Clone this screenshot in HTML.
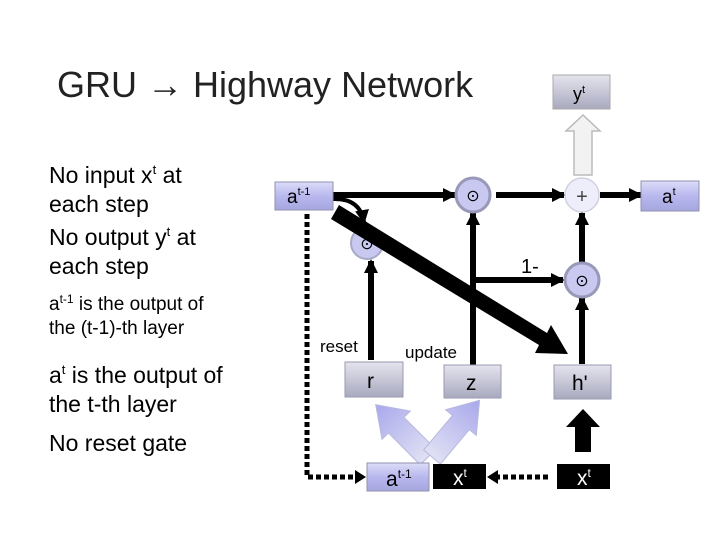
<!DOCTYPE html>
<html><head><meta charset="utf-8"><style>
body{margin:0;background:#fff;width:720px;height:540px;overflow:hidden}
svg{display:block;font-family:"Liberation Sans",sans-serif}
</style></head><body>
<svg width="720" height="540" viewBox="0 0 720 540" xmlns="http://www.w3.org/2000/svg">
<defs>
<linearGradient id="lav" x1="0" y1="0" x2="0" y2="1"><stop offset="0" stop-color="#dcdcf8"/><stop offset="0.5" stop-color="#b8b8ee"/><stop offset="1" stop-color="#a6a6e0"/></linearGradient>
<linearGradient id="gry" x1="0" y1="0" x2="0" y2="1"><stop offset="0" stop-color="#e4e4ee"/><stop offset="1" stop-color="#a9a9bf"/></linearGradient>
<linearGradient id="arr" x1="0" y1="1" x2="0" y2="0"><stop offset="0" stop-color="#e0e0f4"/><stop offset="1" stop-color="#a8a8ec"/></linearGradient>
<marker id="ah" markerWidth="14" markerHeight="14" refX="12" refY="7" orient="auto" markerUnits="userSpaceOnUse"><path d="M0,0 L14,7 L0,14z" fill="#000"/></marker>
</defs>
<text x="57" y="97" font-size="36" fill="#222">GRU → Highway Network</text>
<g font-size="23" fill="#000">
<text x="49" y="183">No input x<tspan font-size="13" dy="-9">t</tspan><tspan dy="9"> at</tspan></text>
<text x="49" y="212">each step</text>
<text x="49" y="245">No output y<tspan font-size="13" dy="-9">t</tspan><tspan dy="9"> at</tspan></text>
<text x="49" y="274">each step</text>
<text x="49" y="310" font-size="19">a<tspan font-size="12" dy="-7">t-1</tspan><tspan dy="7"> is the output of</tspan></text>
<text x="49" y="334" font-size="19">the (t-1)-th layer</text>
<text x="49" y="383">a<tspan font-size="13" dy="-9">t</tspan><tspan dy="9"> is the output of</tspan></text>
<text x="49" y="412">the t-th layer</text>
<text x="49" y="451">No reset gate</text>
</g>
<path d="M307,214 V477 H355" stroke="#000" stroke-width="5" stroke-dasharray="5,3" fill="none"/>
<path d="M355,470 L366,477 L355,484z"/>
<path d="M548,477 H498" stroke="#000" stroke-width="5" stroke-dasharray="5,3" fill="none"/>
<path d="M498,470 L487,477 L498,484z"/>
<rect x="553" y="75" width="57" height="34" fill="url(#gry)" stroke="#aaa"/>
<text x="573" y="100" font-size="18">y<tspan font-size="11" dy="-7">t</tspan></text>
<path d="M574,175 V131 H566 L583,115 L600,131 H592 V175z" fill="#f2f2f2" stroke="#bbb" stroke-width="1.5"/>
<g stroke="#000" stroke-width="6" fill="none">
<path d="M333,195 H455" marker-end="url(#ah)"/>
<path d="M496,195 H564" marker-end="url(#ah)"/>
<path d="M600,195 H641" marker-end="url(#ah)"/>
<path d="M473,365 V213" marker-end="url(#ah)"/>
<path d="M473,280 H563" marker-end="url(#ah)"/>
<path d="M582,262 V213" marker-end="url(#ah)"/>
<path d="M582,364 V298" marker-end="url(#ah)"/>
<path d="M371,360 V261" marker-end="url(#ah)"/>
<path d="M333,199 Q360,198 364,222" stroke-width="4" marker-end="url(#ah)"/>
</g>
<text x="521" y="273" font-size="20">1-</text>
<circle cx="473" cy="195" r="17" fill="#c8c8f0" stroke="#9898b8" stroke-width="3"/>
<text x="473" y="201" font-size="16" text-anchor="middle">⊙</text>
<circle cx="582" cy="195" r="17" fill="#eeeefa" stroke="#d0d0e0" stroke-width="1.5"/>
<text x="582" y="203" font-size="20" text-anchor="middle" fill="#444">+</text>
<circle cx="582" cy="280" r="17" fill="#c8c8f0" stroke="#9898b8" stroke-width="3"/>
<text x="582" y="286" font-size="16" text-anchor="middle">⊙</text>
<circle cx="367" cy="243" r="16" fill="#c8c8f0" stroke="#a8a8c8" stroke-width="2"/>
<text x="367" y="249" font-size="16" text-anchor="middle">⊙</text>
<path d="M339,205 L547,333 L551,325 L568,354 L535,353 L539,345 L331,219z" fill="#000"/>
<rect x="275" y="182" width="58" height="28" fill="url(#lav)" stroke="#9090b0"/>
<text x="287" y="203" font-size="19">a<tspan font-size="11" dy="-8">t-1</tspan></text>
<rect x="641" y="181" width="58" height="30" fill="url(#lav)" stroke="#9090b0"/>
<text x="662" y="203" font-size="19">a<tspan font-size="11" dy="-8">t</tspan></text>
<text x="320" y="352" font-size="17">reset</text>
<text x="405" y="358" font-size="17">update</text>
<rect x="345" y="362" width="58" height="35" fill="url(#gry)" stroke="#9a9ab0"/>
<text x="367" y="388" font-size="21">r</text>
<rect x="444" y="365" width="57" height="33" fill="url(#gry)" stroke="#9a9ab0"/>
<text x="466" y="390" font-size="21">z</text>
<rect x="554" y="365" width="57" height="34" fill="url(#gry)" stroke="#9a9ab0"/>
<text x="572" y="390" font-size="21">h'</text>
<g transform="translate(428,457) rotate(-45)"><path d="M-11,0 V-45 H-20 L0,-74 L20,-45 H11 V0z" fill="url(#arr)" stroke="#b8b8dc"/></g>
<g transform="translate(432,457) rotate(40)"><path d="M-11,0 V-45 H-20 L0,-74 L20,-45 H11 V0z" fill="url(#arr)" stroke="#b8b8dc"/></g>
<path d="M575,452 V427 H566 L583,409 L600,427 H591 V452z" fill="#000"/>
<rect x="367" y="463" width="62" height="28" fill="url(#lav)" stroke="#9090b0"/>
<text x="386" y="486" font-size="21">a<tspan font-size="12" dy="-8">t-1</tspan></text>
<rect x="433" y="464" width="53" height="25" fill="#000"/>
<text x="453" y="485" font-size="21" fill="#fff">x<tspan font-size="12" dy="-8">t</tspan></text>
<rect x="557" y="464" width="53" height="25" fill="#000"/>
<text x="577" y="485" font-size="21" fill="#fff">x<tspan font-size="12" dy="-8">t</tspan></text>
</svg>
</body></html>
